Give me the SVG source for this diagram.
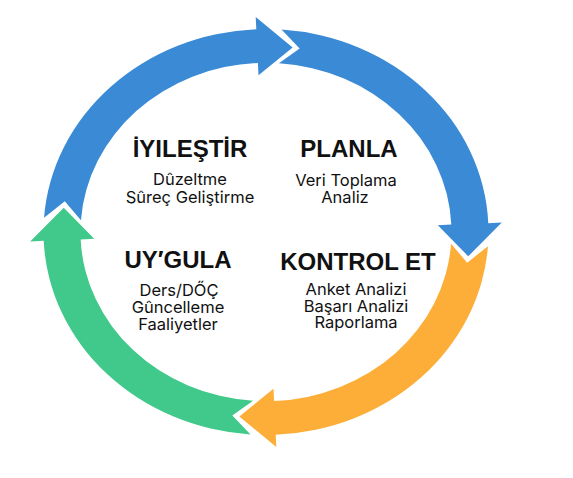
<svg xmlns="http://www.w3.org/2000/svg" width="573" height="478" viewBox="0 0 573 478">
<style>
.h{font-family:"Liberation Sans",Arial,sans-serif;font-weight:bold;font-size:24px;fill:#111;text-anchor:middle}
.s{font-family:Inter,"Liberation Sans",Arial,sans-serif;font-size:16.5px;fill:#111;text-anchor:middle}
</style>
<defs>
<path id="arrow" d="M-221.96,-15.52 A222.5,222.5 0 0 1 -9.71,-222.29 L-10.29,-235.78 L26.63,-202.25 L-7.50,-171.84 L-8.09,-185.32 A185.5,185.5 0 0 0 -185.05,-12.94 L-201.20,-33.67 Z"/>
</defs>
<rect width="573" height="478" fill="#fff"/>
<g id="connectors" transform="translate(266,232) scale(1,0.912)">
<use href="#arrow" fill="#3A8AD6"/>
<use href="#arrow" fill="#3A8AD6" transform="rotate(90)"/>
<use href="#arrow" fill="#FDAE38" transform="rotate(180)"/>
<use href="#arrow" fill="#40C98A" transform="rotate(270)"/>
</g>
<g id="iyilestir">
<text class="h" x="190" y="157">İYILEŞTİR</text>
<text class="s" x="190" y="185">Dûzeltme</text>
<text class="s" x="190" y="203">Sûreç Geliştirme</text>
</g>
<g id="planla">
<text class="h" x="349" y="157">PLANLA</text>
<text class="s" x="346" y="186">Veri Toplama</text>
<text class="s" x="345" y="203">Analiz</text>
</g>
<g id="uygula">
<text class="h" x="178" y="268">UY′GULA</text>
<text class="s" x="179" y="296">Ders/DŐÇ</text>
<text class="s" x="178" y="313">Gûncelleme</text>
<text class="s" x="178" y="330">Faaliyetler</text>
</g>
<g id="kontrol">
<text class="h" x="358" y="270">KONTROL ET</text>
<text class="s" x="356" y="295">Anket Analizi</text>
<text class="s" x="356" y="312">Başarı Analizi</text>
<text class="s" x="356" y="328">Raporlama</text>
</g>
</svg>
